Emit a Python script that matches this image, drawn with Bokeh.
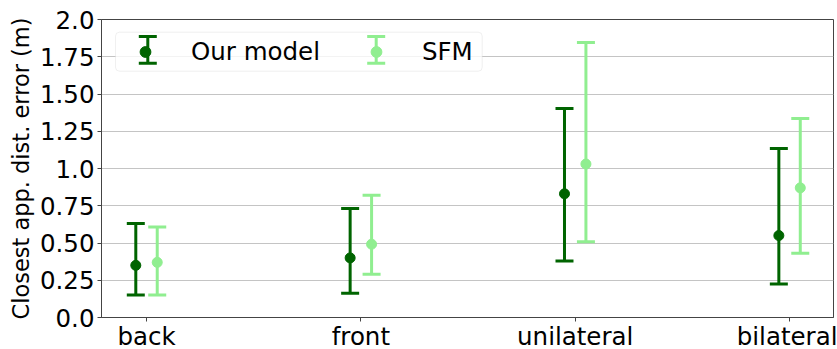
import numpy as np
from bokeh.plotting import figure
from bokeh.models import (ColumnDataSource, Whisker, TeeHead, Legend, LegendItem,
                          FixedTicker, Range1d, BoxAnnotation)
from bokeh.embed import file_html
from bokeh.resources import INLINE

# ---------------- data ----------------
categories = ["back", "front", "unilateral", "bilateral"]
series_names = ["Our model", "SFM"]
our_mean = [0.35, 0.40, 0.83, 0.55]
our_low = [0.151, 0.162, 0.379, 0.224]
our_high = [0.631, 0.732, 1.402, 1.134]
sfm_mean = [0.37, 0.492, 1.03, 0.87]
sfm_low = [0.151, 0.291, 0.508, 0.432]
sfm_high = [0.608, 0.821, 1.846, 1.335]
y_ticks = [0, 0.25, 0.5, 0.75, 1.0, 1.25, 1.5, 1.75, 2.0]
y_tick_labels = ["0.0", "0.25", "0.50", "0.75", "1.0", "1.25", "1.50", "1.75", "2.0"]
y_label = "Closest app. dist. error (m)"

# ---------------- style ----------------
DARK = "#006400"
LIGHT = "#90ee90"
FONT = "DejaVu Sans"
OFFSET = 0.05

p = figure(frame_width=732, frame_height=298,
           x_range=Range1d(-0.21, 3.205), y_range=Range1d(0, 2.0),
           output_backend="svg", toolbar_location=None,
           min_border_left=101, min_border_right=4, min_border_top=19,
           min_border_bottom=10)
p.background_fill_color = "white"
p.outline_line_color = "#444444"
p.outline_line_width = 1
p.xgrid.visible = False
p.ygrid.grid_line_color = "#c4c4c4"
p.ygrid.grid_line_width = 1

idx = np.arange(len(categories))
p.xaxis.ticker = FixedTicker(ticks=list(idx))
p.xaxis.major_label_overrides = {int(i): c for i, c in zip(idx, categories)}
p.yaxis.ticker = FixedTicker(ticks=y_ticks)
p.yaxis.major_label_overrides = {t: l for t, l in zip(y_ticks, y_tick_labels)}
p.yaxis.axis_label = y_label

for ax in (p.xaxis[0], p.yaxis[0]):
    ax.major_label_text_font = FONT
    ax.major_label_text_font_size = "24.5px"
    ax.major_label_text_color = "black"
    ax.axis_line_color = "#444444"
    ax.major_tick_line_color = "#444444"
    ax.major_tick_out = 4
    ax.major_tick_in = 0
    ax.minor_tick_out = 0
    ax.minor_tick_in = 0
    ax.major_label_standoff = 3
p.yaxis.axis_label_text_font = FONT
p.yaxis.axis_label_text_font_size = "22.5px"
p.yaxis.axis_label_text_font_style = "normal"
p.yaxis.axis_label_text_color = "black"
p.yaxis.axis_label_standoff = 3
p.xaxis.major_label_standoff = 0

series = [
    (series_names[0], our_mean, our_low, our_high, DARK, -OFFSET),
    (series_names[1], sfm_mean, sfm_low, sfm_high, LIGHT, OFFSET),
]
renderers = []
for name, m, lo, hi, col, off in series:
    src = ColumnDataSource(dict(x=idx + off, m=m, lo=lo, hi=hi))
    w = Whisker(source=src, base="x", lower="lo", upper="hi", dimension="height",
                line_color=col, line_width=3,
                upper_head=TeeHead(size=18, line_color=col, line_width=3),
                lower_head=TeeHead(size=18, line_color=col, line_width=3))
    p.add_layout(w)
    r = p.scatter("x", "m", source=src, size=10, color=col, marker="circle")
    renderers.append(r)

# legend frame (rounded, semi-opaque), screen units relative to the frame
legend_box = BoxAnnotation(left=14, right=380.7, bottom=246.3, top=285.3,
                           left_units="screen", right_units="screen",
                           bottom_units="screen", top_units="screen",
                           fill_color="white", fill_alpha=0.8,
                           line_color="#cccccc", line_width=1, border_radius=4,
                           level="annotation")
p.add_layout(legend_box)

# error-bar shape of the legend swatches (screen units, relative to frame)
leg_src = [ColumnDataSource(dict(b=[46.3], lo=[254.3], hi=[281.0])),
           ColumnDataSource(dict(b=[274.7], lo=[254.3], hi=[281.0]))]
for s, col in zip(leg_src, [DARK, LIGHT]):
    lw = Whisker(source=s, base="b", lower="lo", upper="hi", dimension="height",
                 base_units="screen", lower_units="screen", upper_units="screen",
                 line_color=col, line_width=3, level="annotation",
                 upper_head=TeeHead(size=18, line_color=col, line_width=3),
                 lower_head=TeeHead(size=18, line_color=col, line_width=3))
    p.add_layout(lw)

legend = Legend(items=[LegendItem(label=series_names[0], renderers=[renderers[0]]),
                       LegendItem(label=series_names[1], renderers=[renderers[1]])],
                orientation="horizontal", location=(16, 246), level="annotation",
                label_text_font=FONT, label_text_font_size="24.5px",
                label_text_color="black",
                glyph_width=46, glyph_height=27, label_standoff=23, spacing=33,
                padding=5, margin=0,
                border_line_alpha=0, background_fill_alpha=0)
p.add_layout(legend)

open("out.html", "w").write(file_html(p, INLINE))
